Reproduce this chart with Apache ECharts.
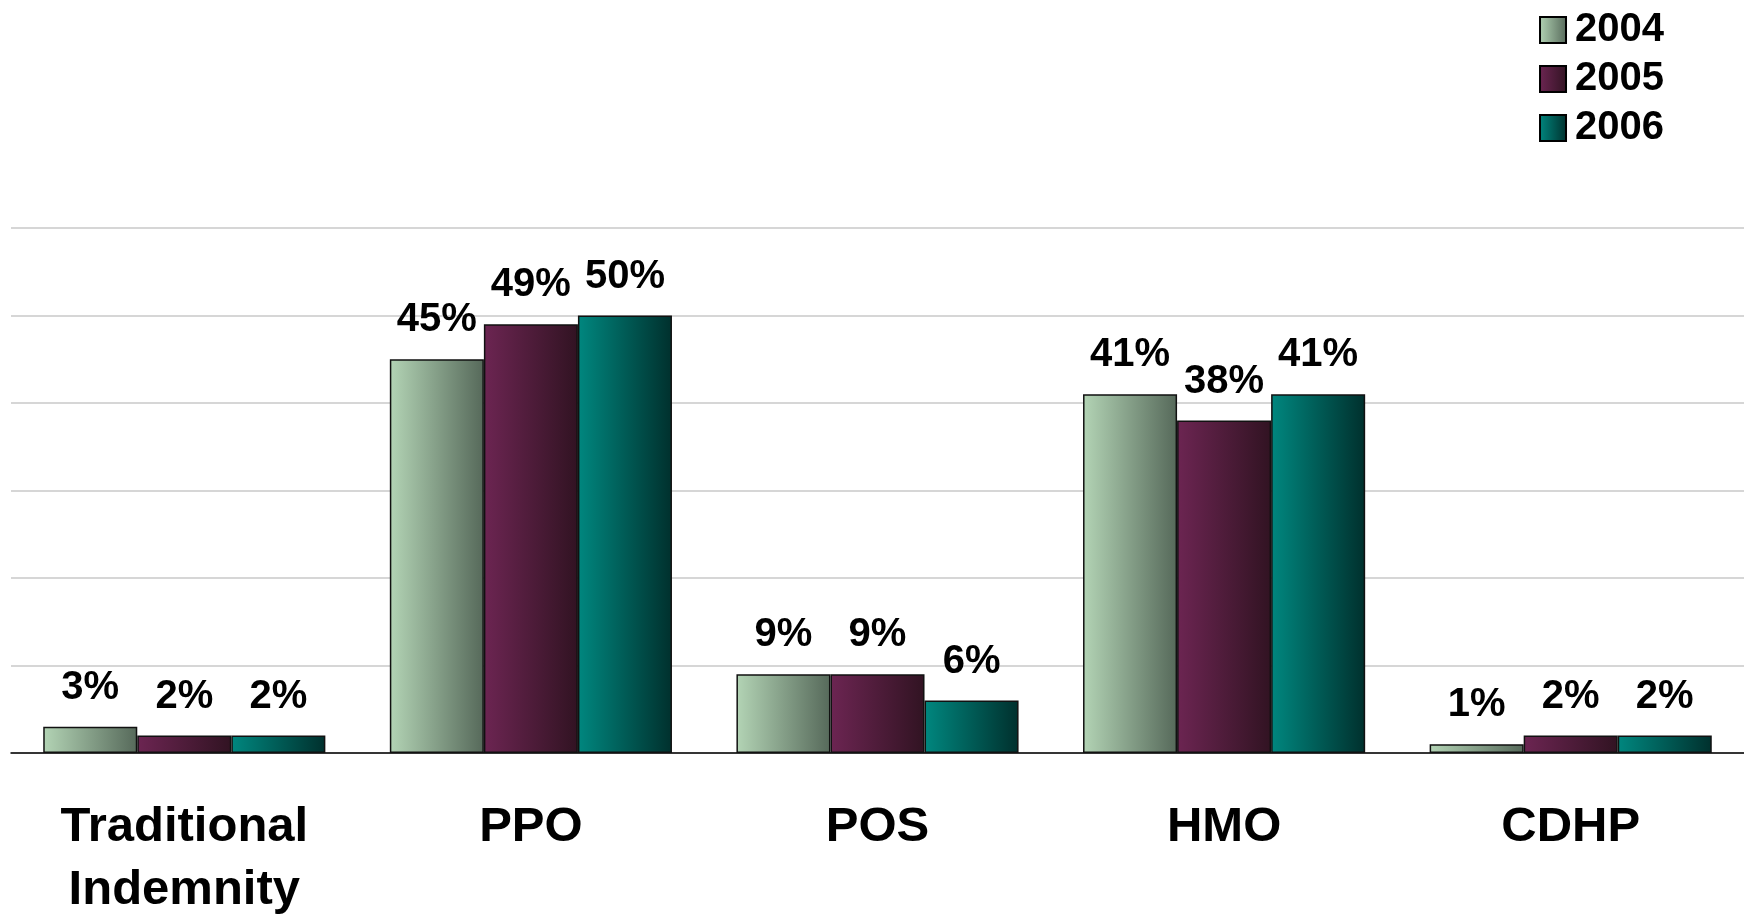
<!DOCTYPE html>
<html>
<head>
<meta charset="utf-8">
<title>Plan type enrollment</title>
<script src="https://cdn.jsdelivr.net/npm/echarts@6/dist/echarts.min.js"></script>
<style>
  html, body { margin: 0; padding: 0; background: #fff; }
  #chart { width: 1744px; height: 914px; }
</style>
</head>
<body>
<div id="chart"></div>
<script>
    // plan types and share of enrollment (%) per year
    var categories = ['Traditional\nIndemnity', 'PPO', 'POS', 'HMO', 'CDHP'];
    var years = ['2004', '2005', '2006'];
    var values2004 = [3, 45, 9, 41, 1];
    var values2005 = [2, 49, 9, 38, 2];
    var values2006 = [2, 50, 6, 41, 2];

    // left -> right shading of each bar
    var shades = [
        ['#b3d4b5', '#56695a'],
        ['#6c2552', '#311322'],
        ['#00877f', '#00302d']
    ];

    function grad (pair) {
        return new echarts.graphic.LinearGradient(0, 0, 1, 0, [
            { offset: 0, color: pair[0] },
            { offset: 1, color: pair[1] }
        ]);
    }

    function makeSeries (name, data, idx) {
        return {
            name: name,
            type: 'bar',
            data: data,
            barGap: 0,
            barCategoryGap: '18.6%',
            itemStyle: {
                color: grad(shades[idx]),
                borderColor: '#111',
                borderWidth: 1.5
            },
            label: {
                show: true,
                position: 'top',
                distance: 19,
                formatter: '{c}%',
                fontFamily: '"Liberation Sans", Arial, sans-serif',
                fontWeight: 'bold',
                fontSize: 40,
                color: '#000'
            }
        };
    }

    var dom = echarts.init(document.getElementById('chart'));
    var option = {
        backgroundColor: '#fff',
        animation: false,
        legend: {
            data: years,
            right: 75,
            top: 5,
            orient: 'vertical',
            icon: 'rect',
            itemWidth: 26,
            itemHeight: 26,
            itemGap: 9,
            itemStyle: { borderColor: '#000', borderWidth: 2 },
            textStyle: {
                fontFamily: '"Liberation Sans Narrow", "Arial Narrow", "Liberation Sans", sans-serif',
                fontWeight: 'bold',
                fontSize: 40,
                color: '#000',
                padding: [0, 0, 0, 4]
            }
        },
        grid: {
            left: 11,
            right: 0,
            top: 228,
            bottom: 161,
            outerBoundsMode: 'none',
            containLabel: false
        },
        xAxis: {
            type: 'category',
            data: categories,
            axisTick: { show: false },
            axisLine: { lineStyle: { color: '#000', width: 1.5 } },
            axisLabel: {
                margin: 43,
                interval: 0,
                fontFamily: '"Liberation Sans", Arial, sans-serif',
                fontWeight: 'bold',
                fontSize: 49,
                lineHeight: 63,
                color: '#000'
            }
        },
        yAxis: {
            type: 'value',
            min: 0,
            max: 60,
            interval: 10,
            axisLabel: { show: false },
            axisLine: { show: false },
            axisTick: { show: false },
            splitLine: { lineStyle: { color: '#c8c8c8', width: 1.5 } }
        },
        series: [
            makeSeries(years[0], values2004, 0),
            makeSeries(years[1], values2005, 1),
            makeSeries(years[2], values2006, 2)
        ]
    };
    dom.setOption(option);
</script>
</body>
</html>
